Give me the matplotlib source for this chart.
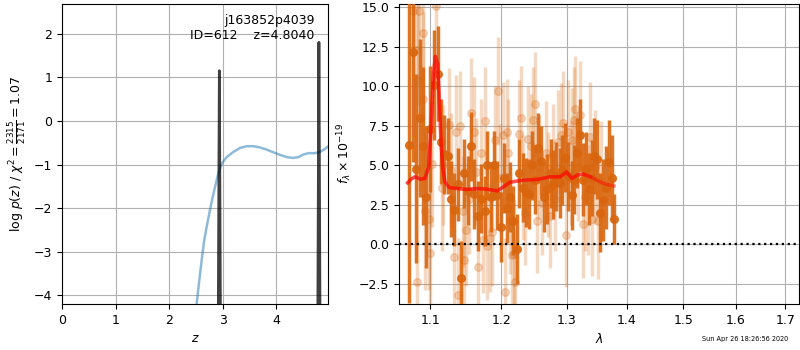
import matplotlib
matplotlib.use("Agg")
import matplotlib.pyplot as plt
import matplotlib.ticker as mticker
import numpy as np

plt.rcParams['font.size'] = 9

# ---- redshift probability panel ----
z_coarse = [2.470, 2.517, 2.561, 2.611, 2.654, 2.704, 2.754, 2.804, 2.860, 2.922,
            2.985, 3.078, 3.202, 3.327, 3.452, 3.576, 3.701, 3.826, 3.950, 4.075,
            4.200, 4.324, 4.417, 4.511, 4.604, 4.729, 4.822, 4.916, 4.978]
logp_coarse = [-4.90, -4.18, -3.70, -3.18, -2.76, -2.42, -2.11, -1.81, -1.51, -1.20,
               -0.98, -0.83, -0.71, -0.62, -0.58, -0.58, -0.61, -0.66, -0.72, -0.78,
               -0.83, -0.85, -0.83, -0.77, -0.74, -0.74, -0.71, -0.64, -0.58]

z_peak1 = [2.915, 2.940, 2.965]
logp_peak1 = [-6.0, 1.15, -6.0]
z_peak2 = [4.775, 4.800, 4.825]
logp_peak2 = [-6.0, 1.80, -6.0]

field_name = "j163852p4039"
obj_id = 612
z_best = 4.8040
chi2_num, chi2_den = 2315, 2171

# ---- spectrum panel (flux in 1e-19 units, wavelength in micron) ----
wave_a = [1.072, 1.077, 1.081, 1.086, 1.091, 1.095, 1.100, 1.105, 1.110, 1.114,
          1.119, 1.124, 1.128, 1.133, 1.138, 1.143, 1.147, 1.152, 1.157, 1.161,
          1.166, 1.171, 1.176, 1.180, 1.185, 1.190, 1.194, 1.199, 1.204, 1.209,
          1.213, 1.218, 1.223, 1.227, 1.232, 1.237, 1.242, 1.246, 1.251, 1.256,
          1.260, 1.265, 1.270, 1.275, 1.279, 1.284, 1.289, 1.293, 1.298, 1.303,
          1.308, 1.312, 1.317, 1.322, 1.326, 1.331, 1.336, 1.341, 1.345, 1.350,
          1.355, 1.359, 1.364, 1.369, 1.374, 1.378]
flux_a = [6.3, 12.2, 4.8, 8.0, 6.2, 3.0, 7.3, 10.1, 10.8, 6.5,
          5.7, 5.6, 2.9, 2.2, 3.8, -2.1, 4.5, 3.4, 6.2, 3.2,
          1.8, 2.9, 2.1, 5.0, 3.0, 5.0, 3.1, 1.1, 4.2, 2.3,
          3.0, 1.5, -0.3, 4.5, 3.6, 3.3, 3.2, 5.0, 4.1, 6.1,
          5.3, 3.0, 3.5, 4.5, 3.8, 4.3, 3.9, 4.7, 5.5, 4.3,
          3.1, 4.1, 5.8, 6.9, 4.1, 4.8, 3.5, 4.2, 5.6, 5.4,
          2.0, 2.8, 3.6, 5.2, 4.2, 1.6]
err_a = [10.0, 7.0, 6.0, 5.0, 5.0, 4.5, 4.0, 3.5, 3.0, 2.7,
         2.5, 2.4, 2.4, 2.3, 2.3, 2.3, 2.2, 2.2, 2.2, 2.2,
         2.2, 2.2, 2.2, 2.2, 2.2, 2.2, 2.2, 2.2, 2.2, 2.2,
         2.2, 2.2, 2.2, 2.2, 2.2, 2.2, 2.2, 2.2, 2.2, 2.2,
         2.2, 2.2, 2.2, 2.2, 2.2, 2.2, 2.2, 2.2, 2.2, 2.2,
         2.2, 2.2, 2.2, 2.3, 2.3, 2.3, 2.3, 2.4, 2.4, 2.5,
         2.5, 2.6, 2.6, 2.7, 2.7, 1.6]

wave_b = [1.077, 1.081, 1.082, 1.084, 1.085, 1.090, 1.091, 1.093, 1.099, 1.100,
          1.103, 1.108, 1.116, 1.118, 1.125, 1.129, 1.133, 1.136, 1.138, 1.141,
          1.145, 1.147, 1.150, 1.154, 1.157, 1.160, 1.164, 1.167, 1.170, 1.174,
          1.176, 1.180, 1.183, 1.187, 1.191, 1.195, 1.198, 1.202, 1.206, 1.208,
          1.210, 1.213, 1.216, 1.219, 1.221, 1.226, 1.229, 1.232, 1.236, 1.240,
          1.244, 1.247, 1.250, 1.254, 1.257, 1.262, 1.267, 1.271, 1.274, 1.278,
          1.282, 1.287, 1.292, 1.294, 1.299, 1.303, 1.307, 1.309, 1.312, 1.314,
          1.318, 1.322, 1.326, 1.329, 1.334, 1.338, 1.342, 1.347, 1.351, 1.356]
flux_b = [14.8, 12.3, -2.4, 10.4, 14.8, 9.2, 13.4, 2.1, 1.6, -0.55,
          5.1, 15.1, 3.6, 5.0, 7.55, 4.7, -0.8, 7.1, -3.2, 7.5,
          2.1, -1.0, 0.9, 2.9, 8.3, 7.1, 4.6, -1.4, 5.8, 0.3,
          7.8, -0.1, 0.4, 0.8, 6.6, 9.7, 4.2, 6.9, -3.0, 7.1,
          5.8, 1.5, -0.7, -0.6, -2.4, 7.0, 8.0, 3.6, 2.0, 6.7,
          6.2, 7.9, 8.9, 1.5, 4.9, 2.6, 5.8, 3.8, 1.8, 5.6,
          2.9, 6.5, 6.9, 7.7, 0.6, 7.1, 4.5, 6.6, 7.9, 8.6,
          4.9, 8.2, 1.3, 3.0, 2.8, 6.8, 1.6, 4.9, 1.5, 4.0]
err_b = [8.0, 7.0, 7.0, 6.0, 6.0, 5.5, 5.5, 5.0, 4.5, 4.5,
         4.0, 4.0, 4.0, 3.8, 3.6, 3.6, 3.6, 3.6, 3.6, 3.5,
         3.5, 3.5, 3.5, 3.5, 3.5, 3.5, 3.4, 3.4, 3.4, 3.4,
         3.4, 3.4, 3.4, 3.4, 3.4, 3.4, 3.4, 3.4, 3.4, 3.4,
         3.4, 3.4, 3.4, 3.4, 3.4, 3.4, 3.3, 3.3, 3.3, 3.3,
         3.3, 3.3, 3.3, 3.3, 3.3, 3.3, 3.3, 3.3, 3.3, 3.3,
         3.3, 3.3, 3.3, 3.3, 3.3, 3.3, 3.3, 3.3, 3.3, 3.3,
         3.4, 3.4, 3.4, 3.4, 3.5, 3.5, 3.6, 3.6, 3.7, 3.8]

wave_model = [1.070, 1.075, 1.080, 1.087, 1.093, 1.098, 1.101, 1.1045, 1.107, 1.110,
              1.1125, 1.1145, 1.117, 1.120, 1.126, 1.137, 1.151, 1.165, 1.179, 1.194,
              1.2035, 1.213, 1.233, 1.254, 1.274, 1.290, 1.300, 1.309, 1.317, 1.3275,
              1.3385, 1.3495, 1.3605, 1.378]
flux_model = [3.9, 4.15, 4.28, 4.13, 4.18, 4.9, 7.4, 10.8, 11.9, 11.45,
              9.1, 6.6, 4.9, 3.96, 3.6, 3.54, 3.48, 3.54, 3.5, 3.39,
              3.65, 3.94, 4.07, 4.11, 4.28, 4.28, 4.58, 4.18, 4.39, 4.45,
              4.28, 4.07, 3.86, 3.7]
model_b_end = 1.34

wave_ticks = [1.1, 1.2, 1.3, 1.4, 1.5, 1.6, 1.7]
timestamp = "Sun Apr 26 18:26:56 2020"

spec_color = '#d9660e'

fig = plt.figure(figsize=(8, 3.5), dpi=100)
ax1 = fig.add_axes([0.0775, 0.131, 0.3325, 0.859])
ax2 = fig.add_axes([0.499, 0.131, 0.5, 0.859])

# p(z)
ax1.plot(z_coarse, logp_coarse, color='C0', alpha=0.5, lw=1.8)
ax1.plot(z_peak1, logp_peak1, color='k', alpha=0.75, lw=2)
ax1.plot(z_peak2, logp_peak2, color='k', alpha=0.75, lw=2)
ax1.set_xlim(0, 4.97)
ax1.set_ylim(-4.2, 2.69)
ax1.set_xlabel('$z$')
ax1.set_ylabel(r'log $p(z)$ / $\chi^2=\frac{%d}{%d}=%.2f$'
               % (chi2_num, chi2_den, chi2_num / chi2_den))
ax1.grid()
ax1.text(0.95, 0.965, '%s\nID=%d    z=%.4f' % (field_name, obj_id, z_best),
         transform=ax1.transAxes, ha='right', va='top', fontsize=9)

# spectrum
ax2.errorbar(wave_b, flux_b, yerr=err_b, fmt='o', color=spec_color,
             alpha=0.25, ms=5.5, elinewidth=2.5, capsize=0, zorder=2)
ax2.errorbar(wave_a, flux_a, yerr=err_a, fmt='o', color=spec_color,
             alpha=0.9, ms=5.5, elinewidth=2.5, capsize=0, zorder=3)
wm = np.array(wave_model)
fm = np.array(flux_model)
ax2.plot(wm, fm, color='red', alpha=0.45, lw=2.5, zorder=4)
sel = wm <= model_b_end
ax2.plot(wm[sel], fm[sel], color='red', alpha=0.45, lw=2.5, zorder=4)
ax2.axhline(0, color='k', ls=':', lw=1.6, zorder=5)

ax2.set_xscale('log')
ax2.set_xlim(1.059, 1.729)
ax2.set_ylim(-3.78, 15.25)
ax2.xaxis.set_major_locator(mticker.FixedLocator(wave_ticks))
ax2.xaxis.set_major_formatter(mticker.FormatStrFormatter('%.1f'))
ax2.xaxis.set_minor_locator(mticker.NullLocator())
ax2.set_xlabel(r'$\lambda$')
ax2.set_ylabel(r'$f_\lambda\times10^{-19}$')
ax2.grid()

fig.text(0.985, 0.031, timestamp, ha='right', va='center', fontsize=4.7)

fig.savefig('out.png', dpi=100)
